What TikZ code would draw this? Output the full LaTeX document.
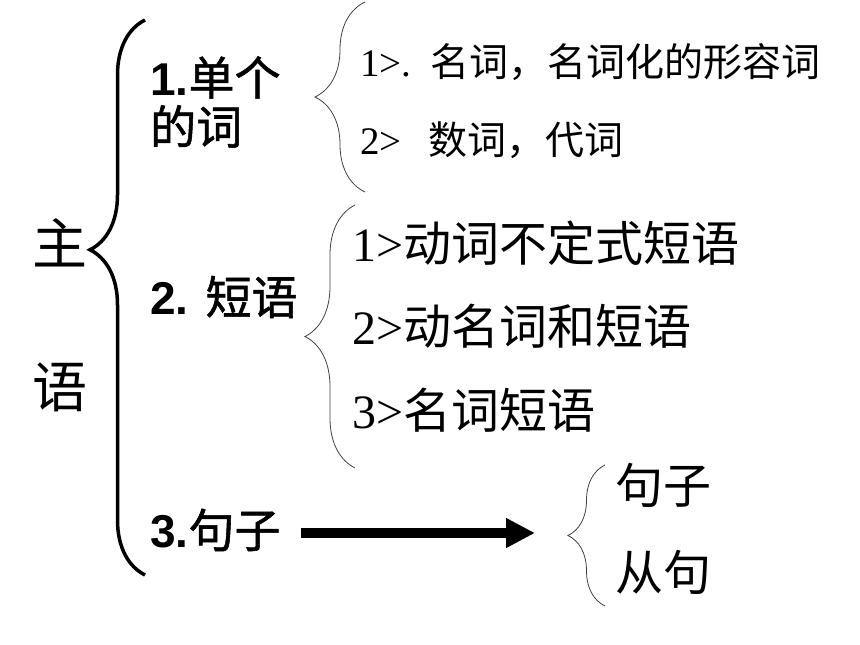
\documentclass[tikz,border=0pt]{standalone}
\usepackage{fontspec}
\setmainfont{Liberation Serif}
\setsansfont{Liberation Sans}
\newfontfamily\cjk{Noto Sans CJK SC}
\newfontfamily\cjkb{Noto Sans CJK SC}[FakeBold=1.2]
\usetikzlibrary{arrows.meta,decorations.pathreplacing}
\tikzset{
    bigbrace/.style={
        line width=3.5pt,
        decorate,
        decoration={brace, amplitude=55pt, aspect=0.586}
    },
    smallbrace/.style={
        black!75,
        line width=0.8pt,
        decorate,
        decoration={brace, amplitude=#1}
    },
    arrow/.style={
        line width=10pt,
        -{Triangle[length=29pt, width=28pt]}
    },
    item/.style={
        anchor=west,
        inner sep=0pt
    }
}
\newcommand{\hd}[1]{{\sffamily\bfseries #1}}

\begin{document}
\begin{tikzpicture}[x=1pt, y=-1pt]
    \useasboundingbox (0,0) rectangle (860,645);
    % subject
    \node [inner sep=0pt, font=\cjk\fontsize{55}{55}\selectfont] (zhu) at (60,243) {主};
    \node [inner sep=0pt, font=\cjk\fontsize{55}{55}\selectfont] (yu) at (60,387) {语};
    \coordinate (b0bot) at (145,575);
    \coordinate (b0top) at (145,20);
    \draw [bigbrace] (b0bot) -- (b0top);

    % three kinds
    \node [item, align=left, font=\cjkb\fontsize{46}{49}\selectfont] (s1) at (150,102) {\hd{1.}单个\\的词};
    \node [item, font=\cjkb\fontsize{46}{49}\selectfont] (s2) at (150,297) {\hd{2. }短语};
    \node [item, font=\cjkb\fontsize{46}{49}\selectfont] (s3) at (150,530) {\hd{3.}句子};

    % single words
    \coordinate (b1bot) at (365,192);
    \coordinate (b1top) at (365,2);
    \draw [smallbrace=50pt] (b1bot) -- (b1top);
    \node [item, font=\fontsize{39}{42}\selectfont] (w1) at (360,62) {1>.\hspace{0.5em}{\cjk 名词，名词化的形容词}};
    \node [item, font=\fontsize{39}{42}\selectfont] (w2) at (360,140) {2>\hspace{0.68em}{\cjk 数词，代词}};

    % phrases
    \coordinate (b2bot) at (355,468);
    \coordinate (b2top) at (355,205);
    \draw [smallbrace=50pt] (b2bot) -- (b2top);
    \foreach \t [count=\i] in {动词不定式短语, 动名词和短语, 名词短语} {
        \node [item, font=\fontsize{48}{50}\selectfont] (p\i) at (352, {243 + (\i - 1) * 83.5}) {\i>{\cjk \t}};
    }

    % sentences
    \coordinate (a3end) at (535,533);
    \draw [arrow, shorten <=20pt] (s3.east |- a3end) -- (a3end);
    \coordinate (b3bot) at (605,606);
    \coordinate (b3top) at (605,465);
    \draw [smallbrace=37pt] (b3bot) -- (b3top);
    \node [item, font=\cjk\fontsize{48}{50}\selectfont] (c1) at (615,485) {句子};
    \node [item, font=\cjk\fontsize{48}{50}\selectfont] (c2) at (615,572) {从句};
\end{tikzpicture}
\end{document}
